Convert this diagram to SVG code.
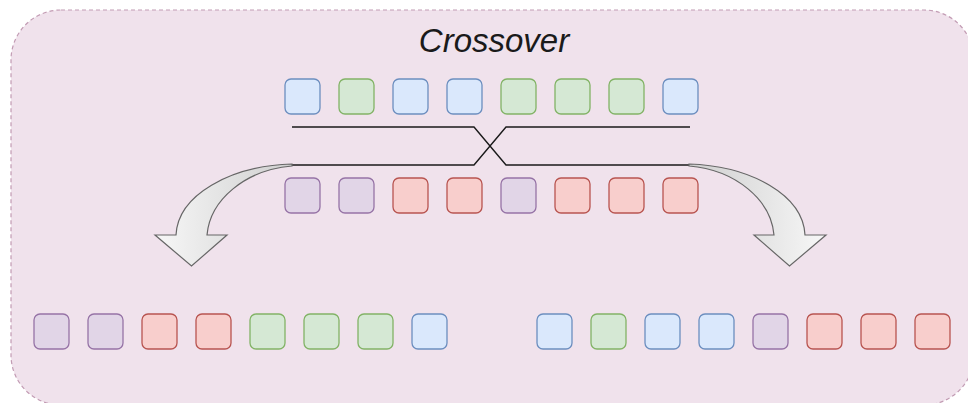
<svg xmlns="http://www.w3.org/2000/svg" width="968" height="403" viewBox="0 0 968 403">
  <defs>
    <linearGradient id="arrowGrad" x1="0" y1="0" x2="1" y2="0">
      <stop offset="0" stop-color="#f7f7f7"/>
      <stop offset="1" stop-color="#cfcfcf"/>
    </linearGradient>
    <style>
      .gene { stroke-width: 1.3; }
      .b { fill: #dae8fc; stroke: #6c8ebf; }
      .g { fill: #d5e8d4; stroke: #82b366; }
      .r { fill: #f8cecc; stroke: #b85450; }
      .p { fill: #e1d5e7; stroke: #9673a6; }
      .cross { fill: none; stroke: #1a1a1a; stroke-width: 1.4; }
      .curved { fill: url(#arrowGrad); stroke: #666666; stroke-width: 1.2; stroke-linejoin: miter; }
    </style>
  </defs>

  <g id="container">
    <rect x="11" y="10" width="963" height="395" rx="50" ry="50" fill="#f0e2ec" stroke="#c29bb3" stroke-width="1.2" stroke-dasharray="4 3"/>
    <text x="494" y="52" font-family="'Liberation Sans', Arial, sans-serif" font-size="33" font-style="italic" fill="#1a1a1a" text-anchor="middle">Crossover</text>
  </g>

  <g id="connectors">
    <polyline class="cross" points="292,127 474,127 506,165 690,165"/>
    <polyline class="cross" points="292,165 474,165 506,127 690,127"/>
    <path class="curved" d="M 292,164 C 230,166 178,195 176,235 L 155,235 L 191.5,266 L 227,235 L 207,235 C 210,200 245,170 292,166 Z"/>
    <path class="curved" transform="translate(981,0) scale(-1,1)" d="M 292,164 C 230,166 178,195 176,235 L 155,235 L 191.5,266 L 227,235 L 207,235 C 210,200 245,170 292,166 Z"/>
  </g>

  <g id="parent1">
    <rect class="gene b" x="285" y="79" width="35" height="35" rx="6"/>
    <rect class="gene g" x="339" y="79" width="35" height="35" rx="6"/>
    <rect class="gene b" x="393" y="79" width="35" height="35" rx="6"/>
    <rect class="gene b" x="447" y="79" width="35" height="35" rx="6"/>
    <rect class="gene g" x="501" y="79" width="35" height="35" rx="6"/>
    <rect class="gene g" x="555" y="79" width="35" height="35" rx="6"/>
    <rect class="gene g" x="609" y="79" width="35" height="35" rx="6"/>
    <rect class="gene b" x="663" y="79" width="35" height="35" rx="6"/>
  </g>

  <g id="parent2">
    <rect class="gene p" x="285" y="178" width="35" height="35" rx="6"/>
    <rect class="gene p" x="339" y="178" width="35" height="35" rx="6"/>
    <rect class="gene r" x="393" y="178" width="35" height="35" rx="6"/>
    <rect class="gene r" x="447" y="178" width="35" height="35" rx="6"/>
    <rect class="gene p" x="501" y="178" width="35" height="35" rx="6"/>
    <rect class="gene r" x="555" y="178" width="35" height="35" rx="6"/>
    <rect class="gene r" x="609" y="178" width="35" height="35" rx="6"/>
    <rect class="gene r" x="663" y="178" width="35" height="35" rx="6"/>
  </g>

  <g id="child1">
    <rect class="gene p" x="34" y="314" width="35" height="35" rx="6"/>
    <rect class="gene p" x="88" y="314" width="35" height="35" rx="6"/>
    <rect class="gene r" x="142" y="314" width="35" height="35" rx="6"/>
    <rect class="gene r" x="196" y="314" width="35" height="35" rx="6"/>
    <rect class="gene g" x="250" y="314" width="35" height="35" rx="6"/>
    <rect class="gene g" x="304" y="314" width="35" height="35" rx="6"/>
    <rect class="gene g" x="358" y="314" width="35" height="35" rx="6"/>
    <rect class="gene b" x="412" y="314" width="35" height="35" rx="6"/>
  </g>

  <g id="child2">
    <rect class="gene b" x="537" y="314" width="35" height="35" rx="6"/>
    <rect class="gene g" x="591" y="314" width="35" height="35" rx="6"/>
    <rect class="gene b" x="645" y="314" width="35" height="35" rx="6"/>
    <rect class="gene b" x="699" y="314" width="35" height="35" rx="6"/>
    <rect class="gene p" x="753" y="314" width="35" height="35" rx="6"/>
    <rect class="gene r" x="807" y="314" width="35" height="35" rx="6"/>
    <rect class="gene r" x="861" y="314" width="35" height="35" rx="6"/>
    <rect class="gene r" x="915" y="314" width="35" height="35" rx="6"/>
  </g>
</svg>
